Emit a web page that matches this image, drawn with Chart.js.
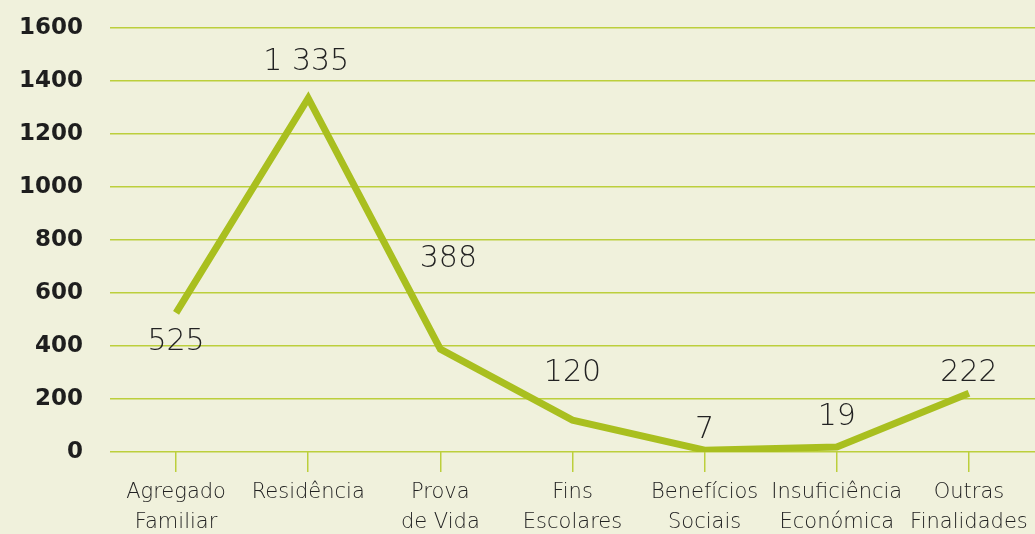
<!DOCTYPE html>
<html>
<head>
<meta charset="utf-8">
<script src="https://cdn.jsdelivr.net/npm/chart.js@4"></script>
<style>
  html, body { margin: 0; padding: 0; background: #f0f1dc; }
  #wrap { width: 1035px; height: 534px; }
</style>
</head>
<body>
<div id="wrap"><canvas id="chart"></canvas></div>
<script>
// ==============================
// DATA
// ==============================
const categories = [
    ["Agregado", "Familiar"],
    ["Residência"],
    ["Prova", "de Vida"],
    ["Fins", "Escolares"],
    ["Benefícios", "Sociais"],
    ["Insuficiência", "Económica"],
    ["Outras", "Finalidades"]
];
const values = [525, 1335, 388, 120, 7, 19, 222];
const valueLabels = ["525", "1 335", "388", "120", "7", "19", "222"];
const yTicks = [0, 200, 400, 600, 800, 1000, 1200, 1400, 1600];

// ==============================
// VALUE LABELS (drawn on top)
// ==============================
const labelOffsets = [[0, 29], [-2, -36], [8, -90], [0, -47], [0, -20], [0, -30], [0, -20]];

const valueLabelPlugin = {
    id: "valueLabels",
    afterDatasetsDraw(chart) {
        const ctx = chart.ctx;
        const meta = chart.getDatasetMeta(0);
        ctx.save();
        ctx.font = "200 30px 'DejaVu Sans'";
        ctx.fillStyle = "#222";
        ctx.textAlign = "center";
        ctx.textBaseline = "middle";
        meta.data.forEach((pt, i) => {
            const [dx, dy] = labelOffsets[i];
            ctx.fillText(valueLabels[i], pt.x + dx, pt.y + dy);
        });
        ctx.restore();
    }
};

const gridColor = "#bccf3c";

new Chart(document.getElementById("chart"), {
    type: "line",
    data: {
        labels: categories,
        datasets: [{
            data: values,
            borderColor: "#a9bf1f",
            borderWidth: 7,
            pointRadius: 0,
            tension: 0,
            borderJoinStyle: "miter",
            borderCapStyle: "butt"
        }]
    },
    options: {
        responsive: true,
        maintainAspectRatio: false,
        animation: false,
        layout: { padding: { top: 28, right: 0, bottom: 0, left: 0 } },
        plugins: {
            legend: { display: false },
            tooltip: { enabled: false }
        },
        scales: {
            x: {
                offset: true,
                border: { display: false },
                grid: {
                    offset: false,
                    drawOnChartArea: false,
                    drawTicks: true,
                    tickLength: 20,
                    color: gridColor,
                    lineWidth: 1.5
                },
                ticks: {
                    color: "#222",
                    font: { family: "DejaVu Sans", size: 21, weight: 200, lineHeight: 1.4 },
                    padding: 6,
                    maxRotation: 0,
                    autoSkip: false
                },
                afterFit(scale) {
                    scale.height = 82;
                    scale.paddingLeft = 0;
                    scale.paddingRight = 0;
                }
            },
            y: {
                min: 0,
                max: 1600,
                border: { display: false },
                grid: { color: gridColor, lineWidth: 1.5, drawTicks: false },
                afterBuildTicks(scale) { scale.ticks = yTicks.map(v => ({ value: v })); },
                ticks: {
                    color: "#1e1e1e",
                    font: { family: "DejaVu Sans", size: 23, weight: "bold" },
                    padding: 27,
                    callback: v => String(v)
                },
                afterFit(scale) {
                    scale.width = 110;
                    scale.paddingTop = 0;
                    scale.paddingBottom = 0;
                }
            }
        }
    },
    plugins: [valueLabelPlugin]
});
</script>
</body>
</html>
